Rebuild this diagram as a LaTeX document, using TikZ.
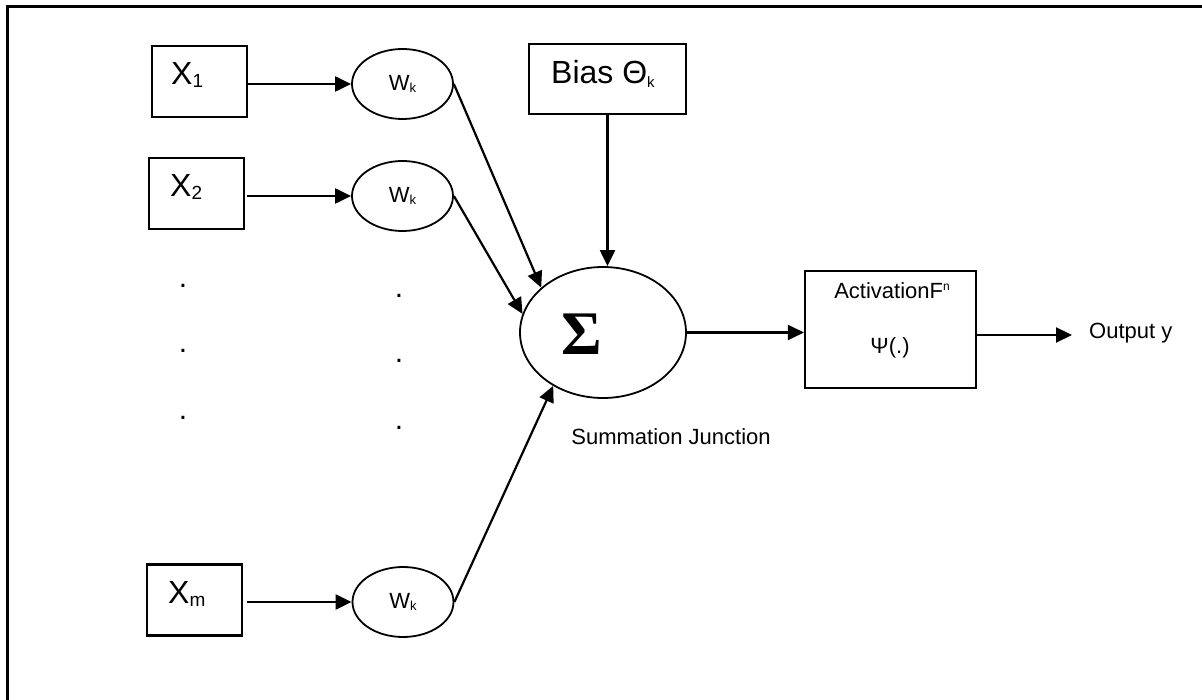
\documentclass[tikz,border=0pt]{standalone}
\usepackage{fontspec}
\setmainfont{Liberation Sans}
\newfontfamily\sigmafont{Liberation Serif}
\usetikzlibrary{arrows.meta,shapes.geometric}

% small index set below / above the base line
\newcommand\lowidx[3]{\raisebox{-#1}{\fontsize{#2}{#2}\selectfont #3}}
\newcommand\highidx[3]{\raisebox{#1}{\fontsize{#2}{#2}\selectfont #3}}

\begin{document}
\begin{tikzpicture}[x=1pt,y=-1pt,
  box/.style={draw, line width=2.1pt, inner sep=0pt},
  weight/.style={draw, ellipse, line width=1.8pt, minimum width=101pt,
    minimum height=70pt, inner sep=0pt, font=\fontsize{22}{26}\selectfont},
  bigtext/.style={anchor=base west, inner sep=0pt, font=\fontsize{32}{38}\selectfont},
  midtext/.style={inner sep=0pt, font=\fontsize{22}{26}\selectfont},
  dotmark/.style={anchor=base, inner sep=0pt, font=\fontsize{30}{34}\selectfont},
  arr/.style={line width=2.2pt, -{Triangle[length=16pt,width=15pt]}}
]
\useasboundingbox (0,0) rectangle (1202,700);

% frame
\draw[line width=3pt] (1202,7) -- (7,7) -- (7,700);

% inputs
\node[box, minimum width=95pt, minimum height=71pt] (x1) at (199.5,81.5) {};
\node[bigtext] (x1t) at (171,85) {X\lowidx{3pt}{19}{1}};
\node[box, minimum width=95pt, minimum height=71pt] (x2) at (196.5,193.5) {};
\node[bigtext] (x2t) at (170,197) {X\lowidx{3pt}{19}{2}};
\node[box, minimum width=95pt, minimum height=71pt] (xm) at (194.5,600) {};
\node[bigtext] (xmt) at (168,603) {X\lowidx{3pt}{19}{m}};

% weights
\node[weight] (w1) at (402.5,84) {W\lowidx{2pt}{13}{k}};
\node[weight] (w2) at (402.5,196) {W\lowidx{2pt}{13}{k}};
\node[weight] (wm) at (403,602) {W\lowidx{2pt}{13}{k}};

% omitted inputs
\node[dotmark] (d1) at (183,288) {.};
\node[dotmark] (d2) at (183,353) {.};
\node[dotmark] (d3) at (183,419) {.};
\node[dotmark] (d4) at (399,298) {.};
\node[dotmark] (d5) at (399,363) {.};
\node[dotmark] (d6) at (399,429) {.};

% bias
\node[box, minimum width=157pt, minimum height=70pt] (bias) at (607.5,79) {};
\node[bigtext] (biast) at (551,84) {Bias Θ\lowidx{4pt}{15}{k}};

% summation junction
\node[draw, ellipse, line width=1.8pt, minimum width=166pt, minimum height=131pt,
  inner sep=0pt] (sig) at (603,332.5) {};
\node[inner sep=0pt, font=\fontsize{62}{68}\selectfont\sigmafont\bfseries] (sigt) at (582,334) {Σ};
\node[midtext] (sumt) at (671,437) {Summation Junction};

% activation
\node[box, minimum width=171pt, minimum height=117pt] (act) at (890.5,329.5) {};
\node[midtext] (actt) at (892,291) {ActivationF\highidx{8pt}{12}{n}};
\node[midtext] (psit) at (890,348) {Ψ(.)};

% output
\coordinate (oend) at (1072,335);
\node[midtext, anchor=west] (outt) at (1089,333) {Output y};

% connectors
\draw[arr] (x1.east |- w1) -- (w1.west);
\draw[arr, shorten <=2pt] (x2.east |- w2) -- (w2.west);
\draw[arr, shorten <=4pt] (xm.east |- wm) -- (wm.west);
\draw[arr] (w1.east) -- (sig.144);
\draw[arr] (w2.east) -- (sig.167);
\draw[arr] (wm.east) -- (sig.227);
\draw[arr] (bias.south) -- (bias.south |- sig.north);
\draw[arr] (sig.east) -- (sig.east -| act.west);
\draw[arr] (act.east |- oend) -- (oend);
\end{tikzpicture}
\end{document}
